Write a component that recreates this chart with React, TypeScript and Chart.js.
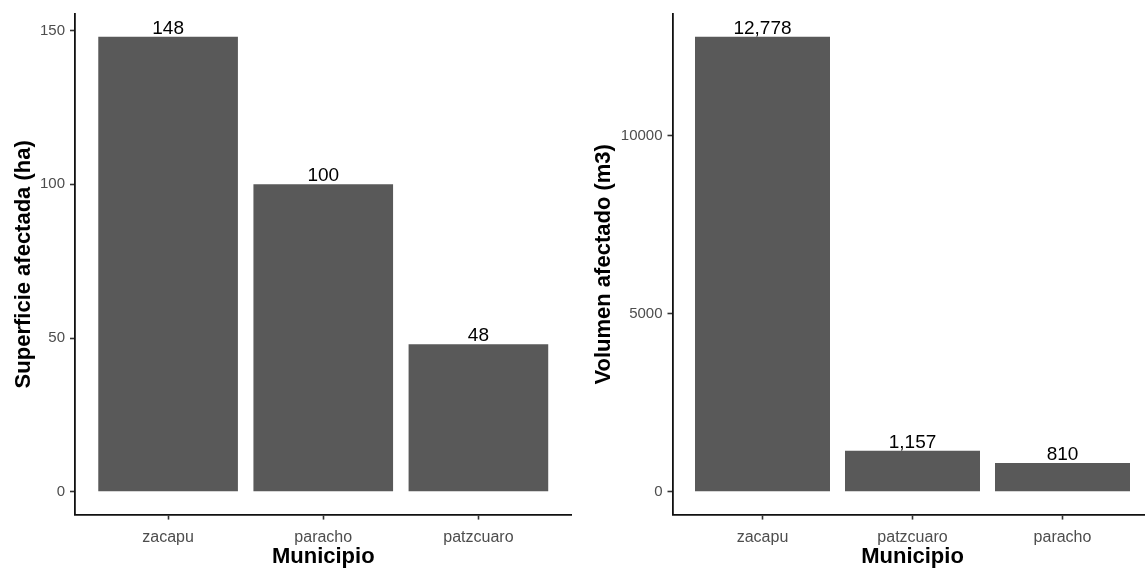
import React, { useEffect, useRef } from "react";
import { Chart, registerables } from "chart.js";

Chart.register(...registerables);

const leftCategories = ["zacapu", "paracho", "patzcuaro"];
const leftValues = [148, 100, 48];
const leftTicks = [0, 50, 100, 150];
const leftTitle = "Superficie afectada (ha)";

const rightCategories = ["zacapu", "patzcuaro", "paracho"];
const rightValues = [12778, 1157, 810];
const rightTicks = [0, 5000, 10000];
const rightTitle = "Volumen afectado (m3)";

const xTitle = "Municipio";

const FONT = "'Liberation Sans', Arial, Helvetica, sans-serif";
const BAR = "#595959";
const AXIS = "#111111";
const TICKMARK = "#333333";
const TICKTEXT = "#4d4d4d";

const valueLabels = {
  id: "valueLabels",
  afterDatasetsDraw(chart: any) {
    const ctx = chart.ctx;
    const meta = chart.getDatasetMeta(0);
    const data = chart.data.datasets[0].data;
    ctx.save();
    ctx.font = `19px ${FONT}`;
    ctx.fillStyle = "#000000";
    ctx.textAlign = "center";
    ctx.textBaseline = "alphabetic";
    meta.data.forEach((el: any, i: number) => {
      const v = data[i].y as number;
      ctx.fillText(v.toLocaleString("en-US"), el.x, el.y - 3);
    });
    ctx.restore();
  },
};

function makeConfig(
  categories: string[],
  values: number[],
  ticks: number[],
  yTitle: string,
  yWidth: number,
  padRight: number
): any {
  const maxV = Math.max(...values);
  return {
    type: "bar",
    data: {
      datasets: [
        {
          data: values.map((v, i) => ({ x: i, y: v })),
          backgroundColor: BAR,
          borderWidth: 0,
          barPercentage: 0.9,
          categoryPercentage: 1,
        },
      ],
    },
    options: {
      animation: false,
      responsive: false,
      maintainAspectRatio: false,
      layout: { padding: { top: 11, right: padRight, bottom: 0, left: 0 } },
      plugins: { legend: { display: false }, tooltip: { enabled: false } },
      scales: {
        x: {
          type: "linear",
          offset: false,
          min: -0.6,
          max: categories.length - 1 + 0.6,
          afterBuildTicks: (s: any) => {
            s.ticks = categories.map((_, i) => ({ value: i }));
          },
          afterFit: (s: any) => {
            s.height = 57.4;
          },
          ticks: {
            callback: (v: any) => categories[v] ?? "",
            font: { family: FONT, size: 16 },
            color: TICKTEXT,
            padding: 8,
            maxRotation: 0,
            autoSkip: false,
          },
          grid: {
            display: true,
            offset: false,
            drawOnChartArea: false,
            drawTicks: true,
            tickLength: 5,
            tickColor: TICKMARK,
            tickWidth: 1.6,
          },
          border: { display: true, color: AXIS, width: 1.8 },
          title: {
            display: true,
            text: xTitle,
            font: { family: FONT, size: 22, weight: "bold" },
            color: "#000000",
            padding: { top: 0, bottom: 1.4 },
          },
        },
        y: {
          type: "linear",
          min: -0.05 * maxV,
          max: 1.05 * maxV,
          afterBuildTicks: (s: any) => {
            s.ticks = ticks.map((v) => ({ value: v }));
          },
          afterFit: (s: any) => {
            s.width = yWidth;
          },
          ticks: {
            callback: (v: any) => String(v),
            font: { family: FONT, size: 15 },
            color: TICKTEXT,
            padding: 5,
          },
          grid: {
            display: true,
            drawOnChartArea: false,
            drawTicks: true,
            tickLength: 5,
            tickColor: TICKMARK,
            tickWidth: 1.6,
          },
          border: { display: true, color: AXIS, width: 1.8 },
          title: {
            display: true,
            text: yTitle,
            font: { family: FONT, size: 22, weight: "bold" },
            color: "#000000",
            padding: { top: 11, bottom: 0 },
          },
        },
      },
    },
    plugins: [valueLabels],
  };
}

function BarPanel(props: {
  categories: string[];
  values: number[];
  ticks: number[];
  yTitle: string;
  yWidth: number;
  padRight: number;
  left: number;
}) {
  const ref = useRef<HTMLCanvasElement | null>(null);
  useEffect(() => {
    if (!ref.current) return;
    const chart = new Chart(
      ref.current,
      makeConfig(props.categories, props.values, props.ticks, props.yTitle, props.yWidth, props.padRight)
    );
    return () => chart.destroy();
  }, []);
  return (
    <canvas
      ref={ref}
      width={580}
      height={572}
      style={{ position: "absolute", left: props.left, top: 0, width: 580, height: 572 }}
    />
  );
}

export default function App() {
  return (
    <div
      style={{
        position: "absolute",
        left: 0,
        top: 0,
        width: 1145,
        height: 572,
        overflow: "hidden",
        background: "#ffffff",
      }}
    >
      <BarPanel
        categories={leftCategories}
        values={leftValues}
        ticks={leftTicks}
        yTitle={leftTitle}
        yWidth={75}
        padRight={8.5}
        left={0}
      />
      <BarPanel
        categories={rightCategories}
        values={rightValues}
        ticks={rightTicks}
        yTitle={rightTitle}
        yWidth={92.5}
        padRight={7.5}
        left={580}
      />
    </div>
  );
}
